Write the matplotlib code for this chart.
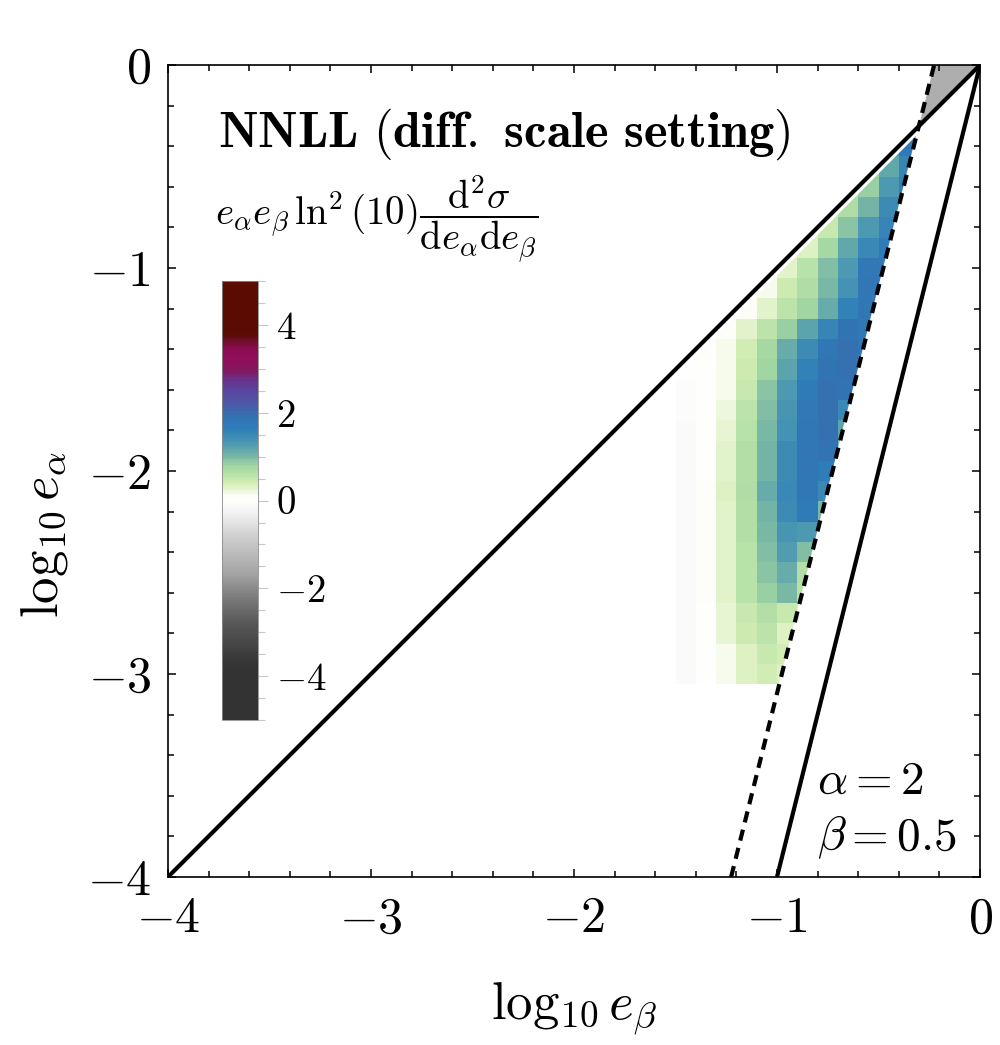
"""NNLL (diff. scale setting) — 2D 분포 히트맵 재현."""
import numpy as np
import matplotlib

matplotlib.use("Agg")
import matplotlib.pyplot as plt
from matplotlib.colors import LinearSegmentedColormap, Normalize
from matplotlib.patches import Polygon
from matplotlib.ticker import MultipleLocator

plt.rcParams["mathtext.fontset"] = "cm"
plt.rcParams["font.family"] = "serif"
plt.rcParams["font.serif"] = ["cmr10", "DejaVu Serif"]
plt.rcParams["axes.unicode_minus"] = False

n = np.nan

# 셀 중심 좌표 (log10 e_beta 열, log10 e_alpha 행)
log_eb = [-1.45, -1.35, -1.25, -1.15, -1.05, -0.95, -0.85, -0.75, -0.65, -0.55, -0.45, -0.35]
log_ea = [-3.0, -2.9, -2.8, -2.7, -2.6, -2.5, -2.4, -2.3, -2.2, -2.1, -2.0, -1.9, -1.8,
          -1.7, -1.6, -1.5, -1.4, -1.3, -1.2, -1.1, -1.0, -0.9, -0.8, -0.7, -0.6, -0.5, -0.4]

# 그림에서 읽은 셀 값 (행 = log_ea, 열 = log_eb)
dist = [
    [-0.1, 0.0, 0.15, 0.32, 0.42, 0.35, n, n, n, n, n, n],
    [-0.1, 0.0, 0.15, 0.35, 0.48, 0.4, n, n, n, n, n, n],
    [-0.1, 0.02, 0.25, 0.45, 0.55, 0.35, n, n, n, n, n, n],
    [-0.1, 0.02, 0.25, 0.5, 0.65, 0.5, 0.3, n, n, n, n, n],
    [-0.1, 0.05, 0.3, 0.6, 0.85, 1.0, 0.6, n, n, n, n, n],
    [-0.1, 0.05, 0.3, 0.62, 0.92, 1.1, 0.65, n, n, n, n, n],
    [-0.1, 0.05, 0.3, 0.62, 0.95, 1.25, 0.95, 0.5, n, n, n, n],
    [-0.1, 0.05, 0.3, 0.65, 1.0, 1.35, 1.3, 0.7, n, n, n, n],
    [-0.1, 0.05, 0.3, 0.65, 1.05, 1.45, 1.7, 1.0, n, n, n, n],
    [-0.1, 0.05, 0.35, 0.7, 1.1, 1.5, 1.8, 1.5, 0.8, n, n, n],
    [-0.1, 0.03, 0.3, 0.65, 1.05, 1.45, 1.8, 1.65, 0.9, n, n, n],
    [-0.1, 0.03, 0.3, 0.65, 1.05, 1.45, 1.8, 1.9, 1.0, n, n, n],
    [-0.08, 0.02, 0.25, 0.6, 1.0, 1.4, 1.8, 1.95, 1.2, n, n, n],
    [-0.07, 0.02, 0.2, 0.55, 0.95, 1.35, 1.75, 1.95, 1.5, n, n, n],
    [-0.05, 0.02, 0.15, 0.5, 0.9, 1.3, 1.7, 1.95, 1.9, 1.0, n, n],
    [-0.02, 0.0, 0.15, 0.45, 0.8, 1.2, 1.6, 1.9, 1.95, 1.6, n, n],
    [n, 0.05, 0.15, 0.4, 0.75, 1.1, 1.45, 1.8, 1.95, 1.8, n, n],
    [n, 0.0, 0.05, 0.3, 0.55, 0.85, 1.2, 1.55, 1.9, 1.75, n, n],
    [n, n, 0.03, 0.08, 0.3, 0.55, 0.8, 1.1, 1.6, 1.8, 1.5, n],
    [n, n, n, 0.05, 0.15, 0.45, 0.7, 1.0, 1.4, 1.8, 1.7, n],
    [n, n, n, n, 0.1, 0.3, 0.6, 0.95, 1.3, 1.75, 1.7, n],
    [n, n, n, n, n, 0.2, 0.35, 0.75, 1.15, 1.5, 1.7, n],
    [n, n, n, n, n, n, 0.3, 0.5, 0.9, 1.3, 1.55, n],
    [n, n, n, n, n, n, n, 0.45, 0.7, 1.05, 1.45, 1.5],
    [n, n, n, n, n, n, n, n, 0.6, 0.85, 1.3, 1.6],
    [n, n, n, n, n, n, n, n, n, 0.8, 1.15, 1.55],
    [n, n, n, n, n, n, n, n, n, n, 1.3, 1.75],
]

# 데이터가 존재하는 영역 경계 (e_beta, e_alpha)
region_x = [-1.5, -0.988, -0.313, -1.5]
region_y = [-3.05, -3.05, -0.348, -1.535]

# 오른쪽 위 회색 영역과 그 값
wedge_x = [-0.301, -0.226, 0.0]
wedge_y = [-0.301, 0.0, 0.0]
wedge_value = -1.45

# 경계선들
diag_x, diag_y = [-4, 0], [-4, 0]
steep_x, steep_y = [-1, 0], [-4, 0]
dash_x, dash_y = [-1.226, -0.226], [-4, 0]

ticks = [-4, -3, -2, -1, 0]
tick_labels = [r"$-4$", r"$-3$", r"$-2$", r"$-1$", r"$0$"]
cb_ticks = [-4, -2, 0, 2, 4]
cb_labels = [r"$-4$", r"$-2$", r"$0$", r"$2$", r"$4$"]

# 컬러맵 앵커 (값, 색)
cmap_anchors = [
    (-5.0, "#333333"), (-3.8, "#333333"), (-3.5, "#3d3d3d"), (-3.1, "#4d4d4d"),
    (-2.8, "#585858"), (-2.4, "#707070"), (-2.0, "#8a8a8a"), (-1.7, "#a2a2a2"),
    (-1.25, "#b9b9b9"), (-0.8, "#d0d0d0"), (-0.35, "#eeeeee"), (0.0, "#ffffff"),
    (0.1, "#fbfdf6"), (0.25, "#e8f5d5"), (0.4, "#d4eeb4"), (0.6, "#b8e2a8"),
    (0.8, "#a2d6a2"), (1.0, "#7ab8a6"), (1.2, "#5aa3ad"), (1.4, "#4391b4"),
    (1.65, "#2e7db8"), (1.9, "#3273b3"), (2.2, "#4a5aa8"), (2.5, "#5a45a0"),
    (2.8, "#6a3088"), (2.95, "#82185f"), (3.2, "#900f5b"), (3.5, "#8a0c50"),
    (3.65, "#6e0e2a"), (3.8, "#5a0b02"), (5.0, "#5a0b02"),
]
vmin, vmax = -5, 5
cmap = LinearSegmentedColormap.from_list(
    "nnll", [((v - vmin) / (vmax - vmin), c) for v, c in cmap_anchors])
norm = Normalize(vmin, vmax)


def edges(centres):
    c = np.asarray(centres)
    h = np.diff(c).mean() / 2
    return np.append(c - h, c[-1] + h)


fig = plt.figure(figsize=(10, 10.45), dpi=100)
ax = fig.add_axes([0.168, 0.1608, 0.812, 0.777])

clip = Polygon(np.column_stack([region_x, region_y]), closed=True, transform=ax.transData)
mesh = ax.pcolormesh(edges(log_eb), edges(log_ea), np.ma.masked_invalid(np.array(dist)),
                     cmap=cmap, norm=norm, shading="flat", zorder=1)
mesh.set_clip_path(clip)

ax.fill(wedge_x, wedge_y, color=cmap(norm(wedge_value)), lw=0, zorder=1)

ax.plot(diag_x, diag_y, color="black", lw=3, zorder=3, solid_capstyle="butt")
ax.plot(steep_x, steep_y, color="black", lw=3, zorder=3, solid_capstyle="butt")
ax.plot(dash_x, dash_y, color="black", lw=3, ls=(0, (2.7, 1.8)), zorder=3)

ax.set_xlim(-4, 0)
ax.set_ylim(-4, 0)
ax.set_xticks(ticks, tick_labels, fontsize=36)
ax.set_yticks(ticks, tick_labels, fontsize=36)
ax.xaxis.set_minor_locator(MultipleLocator(0.2))
ax.yaxis.set_minor_locator(MultipleLocator(0.2))
ax.tick_params(which="both", direction="in", top=True, right=True, width=1.1)
ax.tick_params(which="major", length=5.5)
ax.tick_params(which="minor", length=4)
ax.tick_params(axis="x", pad=14)
ax.tick_params(axis="y", pad=12)
for s in ax.spines.values():
    s.set_linewidth(1.2)

fig.text(0.574, 1 - 1020 / 1045, r"$\log_{10} e_\beta$", fontsize=38, ha="center", va="baseline")
fig.text(0.044, 1 - 535 / 1045, r"$\log_{10} e_\alpha$", fontsize=38, ha="center", va="center",
         rotation=90)

fig.text(0.218, 1 - 147 / 1045, r"$\mathbf{NNLL\ (diff.\ scale\ setting)}$", fontsize=36.5,
         ha="left", va="baseline")
fig.text(0.215, 1 - 219 / 1045,
         r"$e_\alpha e_\beta\,\ln^2(10)\dfrac{\mathrm{d}^2\sigma}{\mathrm{d}e_\alpha\mathrm{d}e_\beta}$",
         fontsize=28, ha="left", va="center")
fig.text(0.817, 1 - 782 / 1045, r"$\alpha = 2$", fontsize=34, ha="left", va="center")
fig.text(0.817, 1 - 837 / 1045, r"$\beta = 0.5$", fontsize=34, ha="left", va="center")

cax = fig.add_axes([0.222, 0.311, 0.036, 0.42])
cb = fig.colorbar(mesh, cax=cax, ticks=cb_ticks)
cb.set_ticklabels(cb_labels)
cb.ax.yaxis.set_minor_locator(MultipleLocator(0.5))
cb.ax.tick_params(which="both", color="#c8c8c8", width=0.8, labelsize=28, pad=6)
cb.ax.tick_params(which="major", length=7)
cb.ax.tick_params(which="minor", length=5)
cb.outline.set_edgecolor("#8a8a8a")
cb.outline.set_linewidth(0.6)

fig.savefig("out.png", dpi=100)
plt.close(fig)
